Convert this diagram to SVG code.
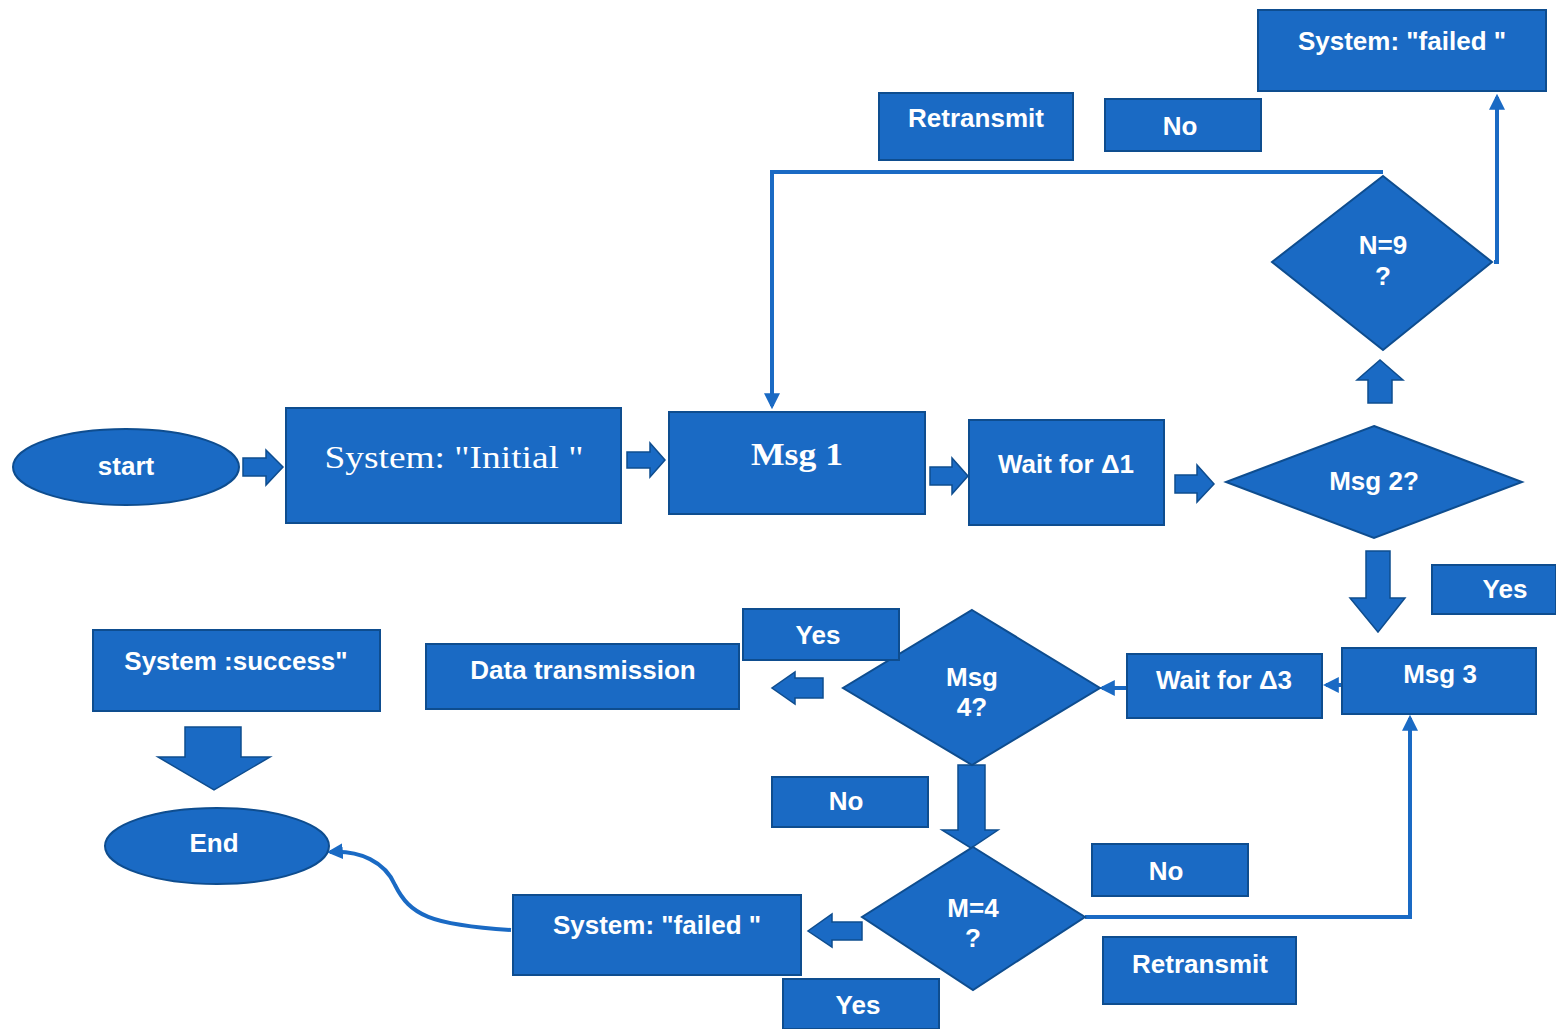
<svg xmlns="http://www.w3.org/2000/svg" width="1556" height="1029" viewBox="0 0 1556 1029">
<defs>
<style>
.n{fill:#1a6ac4;stroke:#0e4d8f;stroke-width:2}
.t{fill:#fff;font-family:"Liberation Sans",Arial,sans-serif;font-size:26px;font-weight:bold;text-anchor:middle;dominant-baseline:central}
.s{fill:#fff;font-family:"Liberation Serif","Times New Roman",serif;font-size:31px;text-anchor:middle;dominant-baseline:central}
.ba{fill:#1a6ac4;stroke:#0e4d8f;stroke-width:1.5}
.ln{fill:none;stroke:#1a6ac4;stroke-width:4}
</style>
<marker id="ah" viewBox="0 0 10 10" refX="8" refY="5" markerWidth="4" markerHeight="4" orient="auto">
<path d="M0,0 L10,5 L0,10 z" fill="#1a6ac4"/>
</marker>
</defs>
<rect width="1556" height="1029" fill="#fff"/>

<g id="connectors">
<path class="ba" d="M243,458 H266 V450 L283,467 L266,485 V476 H243 z"/>
<path class="ba" d="M627,452 H650 V443 L665,460 L650,477 V468 H627 z"/>
<path class="ba" d="M930,467 H952 V458 L968,476 L952,494 V485 H930 z"/>
<path class="ba" d="M1175,475 H1197 V465 L1214,484 L1197,502 V493 H1175 z"/>
<path class="ba" d="M1368,403 V380 H1357 L1380,360 L1403,380 H1392 V403 z"/>
<path class="ba" d="M1366,551 H1390 V598 H1405 L1378,632 L1350,598 H1366 z"/>
<path class="ba" d="M823,678 H795 V672 L772,688 L795,704 V698 H823 z"/>
<path class="ba" d="M185,727 H241 V757 H270 L214,790 L158,757 H185 z"/>
<path class="ba" d="M958,765 H985 V830 H998 L971,848 L942,830 H958 z"/>
<path class="ba" d="M862,922 H832 V914 L808,931 L832,947 V940 H862 z"/>
<path class="ln" d="M1383,172 H772 V406" marker-end="url(#ah)"/>
<path class="ln" d="M1494,262 H1497 V97" marker-end="url(#ah)"/>
<path class="ln" d="M1085,917 H1410 V718" marker-end="url(#ah)"/>
<path class="ln" d="M1342,685 H1326" stroke-width="3" marker-end="url(#ah)"/>
<path class="ln" d="M1127,688 H1102" stroke-width="3" marker-end="url(#ah)"/>
<path class="ln" d="M511,930 C430,925 410,915 395,885 C385,862 360,850 330,852" marker-end="url(#ah)"/>
</g>

<g id="start"><ellipse class="n" cx="126" cy="467" rx="113" ry="38"/><text class="t" x="126" y="466">start</text></g>
<g id="sys-initial"><rect class="n" x="286" y="408" width="335" height="115"/><text class="s" x="454" y="457" textLength="259" lengthAdjust="spacingAndGlyphs">System: "Initial "</text></g>
<g id="msg1"><rect class="n" x="669" y="412" width="256" height="102"/><text class="s" x="797" y="454" font-weight="bold" textLength="92" lengthAdjust="spacingAndGlyphs">Msg 1</text></g>
<g id="wait1"><rect class="n" x="969" y="420" width="195" height="105"/><text class="t" x="1066" y="464">Wait for Δ1</text></g>
<g id="msg2"><polygon class="n" points="1374,426 1522,482 1374,538 1226,482"/><text class="t" x="1374" y="481">Msg 2?</text></g>
<g id="n9"><polygon class="n" points="1383,176 1492,262 1383,350 1272,262"/><text class="t" x="1383" y="245">N=9</text><text class="t" x="1383" y="276">?</text></g>
<g id="sys-failed-top"><rect class="n" x="1258" y="10" width="288" height="81"/><text class="t" x="1402" y="41">System: "failed "</text></g>
<g id="retransmit-top"><rect class="n" x="879" y="93" width="194" height="67"/><text class="t" x="976" y="118">Retransmit</text></g>
<g id="no-top"><rect class="n" x="1105" y="99" width="156" height="52"/><text class="t" x="1180" y="126">No</text></g>
<g id="yes-msg2"><rect class="n" x="1432" y="565" width="124" height="49"/><text class="t" x="1505" y="589">Yes</text></g>
<g id="msg3"><rect class="n" x="1342" y="648" width="194" height="66"/><text class="t" x="1440" y="674">Msg 3</text></g>
<g id="wait3"><rect class="n" x="1127" y="654" width="195" height="64"/><text class="t" x="1224" y="680">Wait for Δ3</text></g>
<g id="msg4"><polygon class="n" points="972,610 1100,688 972,765 843,688"/><text class="t" x="972" y="677">Msg</text><text class="t" x="972" y="707">4?</text></g>
<g id="yes-msg4"><rect class="n" x="743" y="609" width="156" height="51"/><text class="t" x="818" y="635">Yes</text></g>
<g id="data"><rect class="n" x="426" y="644" width="313" height="65"/><text class="t" x="583" y="670">Data transmission</text></g>
<g id="sys-success"><rect class="n" x="93" y="630" width="287" height="81"/><text class="t" x="236" y="661">System :success"</text></g>
<g id="end"><ellipse class="n" cx="217" cy="846" rx="112" ry="38"/><text class="t" x="214" y="843">End</text></g>
<g id="no-msg4"><rect class="n" x="772" y="777" width="156" height="50"/><text class="t" x="846" y="801">No</text></g>
<g id="m4"><polygon class="n" points="973,847 1085,917 973,990 862,917"/><text class="t" x="973" y="908">M=4</text><text class="t" x="973" y="938">?</text></g>
<g id="no-m4"><rect class="n" x="1092" y="844" width="156" height="52"/><text class="t" x="1166" y="871">No</text></g>
<g id="retransmit-bottom"><rect class="n" x="1103" y="937" width="193" height="67"/><text class="t" x="1200" y="964">Retransmit</text></g>
<g id="sys-failed-bottom"><rect class="n" x="513" y="895" width="288" height="80"/><text class="t" x="657" y="925">System: "failed "</text></g>
<g id="yes-m4"><rect class="n" x="783" y="979" width="156" height="50"/><text class="t" x="858" y="1005">Yes</text></g>
</svg>
